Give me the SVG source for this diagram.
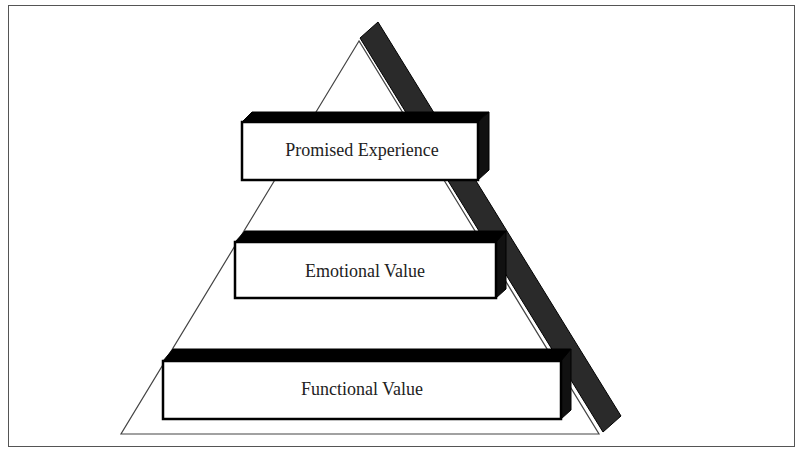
<svg xmlns="http://www.w3.org/2000/svg" width="802" height="453" viewBox="0 0 802 453">
<style>
.f{fill:#fff;stroke:#000;stroke-width:2.5}
.t{fill:#000;stroke:#000;stroke-width:1}
.r{fill:#111;stroke:#000;stroke-width:1}
text{font-family:"Liberation Serif",serif;font-size:18px;fill:#222;text-anchor:middle}
</style>
<rect x="0" y="0" width="802" height="453" fill="#fff"/>
<rect x="8.5" y="5.5" width="786" height="441" fill="none" stroke="#555" stroke-width="1"/>
<g id="pyramid">
<polygon points="360,38 378,22 621,416 603,432" fill="#2a2a2a" stroke="#000"/>
<polygon points="359,41 121,434 599,434" fill="#fff" stroke="#444" stroke-width="1.2"/>
</g>
<g id="functional">
<polygon class="t" points="163,361 173,349 571,349 561,361"/>
<polygon class="r" points="561,361 571,349 571,410 561,419"/>
<rect class="f" x="163" y="361" width="398" height="58"/>
<text x="362" y="395">Functional Value</text>
</g>
<g id="emotional">
<polygon class="t" points="235,242 245,231 506,231 496,242"/>
<polygon class="r" points="496,242 506,231 506,289 496,298"/>
<rect class="f" x="235" y="242" width="261" height="56"/>
<text x="365" y="277">Emotional Value</text>
</g>
<g id="promised">
<polygon class="t" points="242,122 252,112 489,112 478,122"/>
<polygon class="r" points="478,122 489,112 489,170 478,180"/>
<rect class="f" x="242" y="122" width="236" height="58"/>
<text x="362" y="156">Promised Experience</text>
</g>
<g id="connectors"/>
</svg>
